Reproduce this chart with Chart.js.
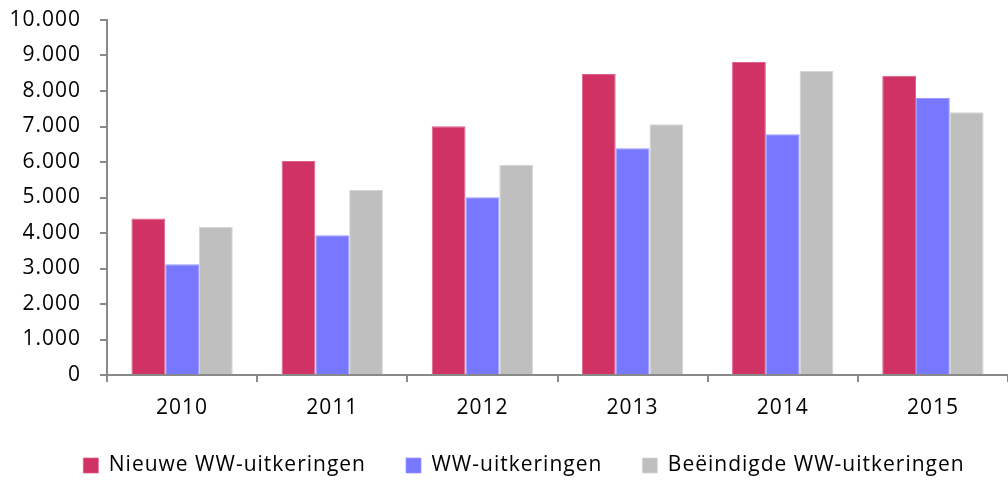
<!DOCTYPE html>
<html><head><meta charset="utf-8">
<script src="https://cdn.jsdelivr.net/npm/chart.js@4"></script>
<style>html,body{margin:0;padding:0;background:#fff}#wrap{width:1008px;height:480px}</style>
</head><body><div id="wrap"><canvas id="c" width="1008" height="480"></canvas></div>
<script>
const categories = ['2010','2011','2012','2013','2014','2015'];
const nieuwe = [4410, 6030, 7010, 8480, 8820, 8430];
const ww = [3120, 3940, 5010, 6390, 6780, 7800];
const beeindigd = [4170, 5210, 5920, 7060, 8560, 7400];
const seriesNames = ['Nieuwe WW-uitkeringen','WW-uitkeringen','Beëindigde WW-uitkeringen'];
const font = '"Open Sans", sans-serif';
Chart.defaults.font.family = font;
Chart.defaults.color = '#000';
const spacing = {
  id: 'spacing',
  beforeUpdate(chart) { chart.ctx.letterSpacing = '1px'; },
  beforeLayout(chart) { chart.ctx.letterSpacing = '1px'; },
  afterLayout(chart) { if (chart.legend) { chart.legend.left = 40; } },
  beforeDraw(chart) { chart.ctx.letterSpacing = '1px'; }
};
new Chart(document.getElementById('c'), {
  type: 'bar',
  plugins: [spacing],
  data: {
    labels: categories,
    datasets: [
      {label: seriesNames[0], data: nieuwe, backgroundColor: '#CF3263', borderColor:'#E0628A', borderWidth:{top:1,left:1,right:1,bottom:0}},
      {label: seriesNames[1], data: ww, backgroundColor: '#7777FF', borderColor:'#9A9AFF', borderWidth:{top:1,left:1,right:1,bottom:0}},
      {label: seriesNames[2], data: beeindigd, backgroundColor: '#BFBFBF', borderColor:'#D6D6D6', borderWidth:{top:1,left:1,right:1,bottom:0}}
    ]
  },
  options: {
    responsive: false,
    animation: false,
    layout: {padding: {top: 20, right: 0, left: 0, bottom: -6}},
    datasets: {bar: {categoryPercentage: 0.675, barPercentage: 1.0}},
    plugins: {
      tooltip: {enabled: false},
      legend: {
        position: 'bottom',
        labels: {boxWidth: 15, boxHeight: 15, padding: 40, font: {size: 21, family: font}, color: '#000'}
      }
    },
    scales: {
      x: {
        afterFit: s => { s.height = 40; s.paddingLeft = 0; s.paddingRight = 0; },
        grid: {display: true, drawOnChartArea: false, offset: true, color: '#898989', tickLength: 7, lineWidth: 2},
        border: {display: true, color: '#898989', width: 2},
        ticks: {font: {size: 21}, color: '#000', padding: 13}
      },
      y: {
        min: 0, max: 10000,
        afterFit: s => { s.width = 107; s.paddingTop = 0; s.paddingBottom = 0; },
        grid: {display: true, drawOnChartArea: false, color: '#898989', tickLength: 7, lineWidth: 2},
        border: {display: true, color: '#898989', width: 2},
        ticks: {stepSize: 1000, font: {size: 21}, color: '#000', padding: 19,
          callback: v => v.toLocaleString('de-DE')}
      }
    }
  }
});
</script></body></html>
